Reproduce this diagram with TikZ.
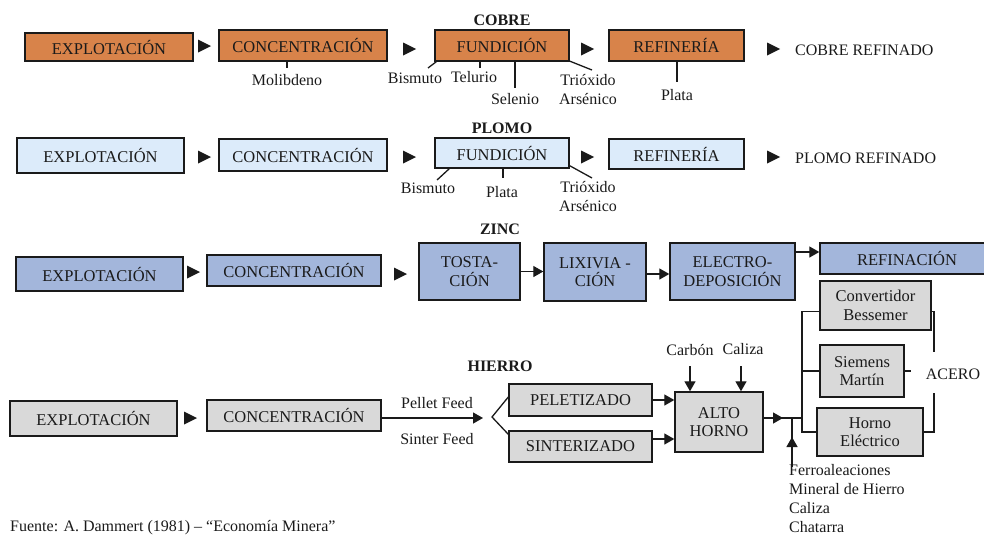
\documentclass[tikz,border=0pt]{standalone}
\usepackage{fontspec}
\setmainfont{Liberation Serif}
\usetikzlibrary{arrows.meta,shadows}
\definecolor{cuor}{HTML}{D8834A}
\definecolor{pbbl}{HTML}{DCEBFA}
\definecolor{znbl}{HTML}{A3B6DB}
\definecolor{fegr}{HTML}{D9D9D9}
\definecolor{ink}{HTML}{1A1A1A}
\tikzset{
  bx/.style={draw=ink, line width=1.4pt, inner sep=0pt, align=center, text=ink,
    font=\fontsize{16.5}{18.5}\selectfont,
    drop shadow={shadow xshift=1.2pt, shadow yshift=-1.2pt, opacity=0.25}},
  cu/.style={bx, fill=cuor},
  pb/.style={bx, fill=pbbl},
  zn/.style={bx, fill=znbl},
  fe/.style={bx, fill=fegr},
  lbl/.style={inner sep=0pt, align=center, text=ink, font=\fontsize{16}{19}\selectfont},
  ttl/.style={inner sep=0pt, text=ink, font=\bfseries\fontsize{16}{19}\selectfont},
  ln/.style={draw=ink, line width=1.3pt},
  arr/.style={draw=ink, line width=1.3pt, -{Triangle[length=10pt,width=11pt]}},
  tri/.pic={\fill[ink] (-6,-6.5) -- (7,0) -- (-6,6.5) -- cycle;}
}
\begin{document}
\begin{tikzpicture}[x=1pt,y=-1pt]
\useasboundingbox (0,0) rectangle (984,536);

% ---------------- COBRE ----------------
\node[ttl] (cut) at (502,20) {COBRE};
\node[cu, minimum width=168pt, minimum height=28pt] (e1) at (109,47) {EXPLOTACIÓN};
\node[cu, minimum width=168pt, minimum height=31pt] (c1) at (303,45.5) {CONCENTRACIÓN};
\node[cu, minimum width=134pt, minimum height=31pt] (f1) at (502,45.5) {FUNDICIÓN};
\node[cu, minimum width=135pt, minimum height=31pt] (r1) at (676.5,45.5) {REFINERÍA};
\node[lbl, anchor=west] (cuout) at (795,50) {COBRE REFINADO};
\pic at (204,46) {tri};
\pic at (409,49) {tri};
\pic at (587,49) {tri};
\pic at (773,49) {tri};

\node[lbl] (mol) at (287,80) {Molibdeno};
\node[lbl] (bi1) at (415,78) {Bismuto};
\node[lbl] (te1) at (474,77) {Telurio};
\node[lbl] (sel1) at (515,99) {Selenio};
\node[lbl] (tri1) at (588,89.5) {Trióxido\\Arsénico};
\node[lbl] (pla1) at (677,95) {Plata};
\coordinate (kmol) at (287,68);
\coordinate (kbi1) at (428,68);
\coordinate (kte1) at (480,68);
\coordinate (kse1) at (515,88);
\coordinate (ktr1) at (592,70);
\coordinate (kpl1) at (677,82);
\draw[ln] (c1.south -| kmol) -- (kmol);
\draw[ln] ([xshift=2pt]f1.south west) -- (kbi1);
\draw[ln] (f1.south -| kte1) -- (kte1);
\draw[ln] (f1.south -| kse1) -- (kse1);
\draw[ln] ([shift={(-1pt,1pt)}]f1.south east) -- (ktr1);
\draw[ln] (r1.south -| kpl1) -- (kpl1);

% ---------------- PLOMO ----------------
\node[ttl] (pbt) at (502,128) {PLOMO};
\node[pb, minimum width=167pt, minimum height=35pt] (e2) at (100.5,155.5) {EXPLOTACIÓN};
\node[pb, minimum width=168pt, minimum height=32pt] (c2) at (303,155) {CONCENTRACIÓN};
\node[pb, minimum width=134pt, minimum height=30pt] (f2) at (502,153) {FUNDICIÓN};
\node[pb, minimum width=135pt, minimum height=30pt] (r2) at (676.5,154) {REFINERÍA};
\node[lbl, anchor=west] (pbout) at (795,158) {PLOMO REFINADO};
\pic at (204,157) {tri};
\pic at (409,157) {tri};
\pic at (587,157) {tri};
\pic at (773,157) {tri};

\node[lbl] (bi2) at (428,188) {Bismuto};
\node[lbl] (pla2) at (502,192) {Plata};
\node[lbl] (tri2) at (588,197) {Trióxido\\Arsénico};
\coordinate (kbi2) at (437,180);
\coordinate (kpl2) at (503,178);
\coordinate (ktr2) at (592,178);
\draw[ln] ([xshift=15pt]f2.south west) -- (kbi2);
\draw[ln] (f2.south -| kpl2) -- (kpl2);
\draw[ln] ([yshift=3pt]f2.south east) -- (ktr2);

% ---------------- ZINC ----------------
\node[ttl] (znt) at (500,229) {ZINC};
\node[zn, minimum width=167pt, minimum height=34pt] (e3) at (99.5,274) {EXPLOTACIÓN};
\node[zn, minimum width=174pt, minimum height=31pt] (c3) at (294,270.5) {CONCENTRACIÓN};
\node[zn, minimum width=101pt, minimum height=57pt] (t3) at (469.5,271.5) {TOSTA-\\CIÓN};
\node[zn, minimum width=102pt, minimum height=58pt] (l3) at (595,272) {LIXIVIA -\\CIÓN};
\node[zn, minimum width=125pt, minimum height=57pt] (d3) at (732.5,271.5) {ELECTRO-\\DEPOSICIÓN};
\node[zn, minimum width=174pt, minimum height=31pt] (rf3) at (907,258.5) {REFINACIÓN};
\pic at (193,272) {tri};
\pic at (400,274) {tri};
\draw[arr] (t3.east) -- (l3.west |- t3.east);
\draw[arr] ([yshift=-2pt]l3.east) -- ([yshift=-2pt]l3.east -| d3.west);
\draw[arr] ([yshift=19.5pt]d3.east) -- ([yshift=19.5pt]d3.east -| rf3.west);

% ---------------- HIERRO ----------------
\node[ttl] (fet) at (500,366) {HIERRO};
\node[fe, minimum width=167pt, minimum height=35pt] (e4) at (93.5,418.5) {EXPLOTACIÓN};
\node[fe, minimum width=174pt, minimum height=31pt] (c4) at (294,415.5) {CONCENTRACIÓN};
\node[fe, minimum width=143pt, minimum height=32pt] (p4) at (580.5,400) {PELETIZADO};
\node[fe, minimum width=143pt, minimum height=31pt] (s4) at (580.5,446.5) {SINTERIZADO};
\node[fe, minimum width=88pt, minimum height=60pt] (a4) at (719,422) {ALTO\\HORNO};
\node[fe, minimum width=111pt, minimum height=49pt] (cb) at (875.5,305.5) {Convertidor\\Bessemer};
\node[fe, minimum width=84pt, minimum height=52pt] (sm) at (862,371) {Siemens\\Martín};
\node[fe, minimum width=106pt, minimum height=48pt] (he) at (870,432) {Horno\\Eléctrico};
\pic at (190,418) {tri};

\node[lbl] (pf) at (437,403) {Pellet Feed};
\node[lbl] (sf) at (437,439) {Sinter Feed};
\coordinate (ftip) at (483,418);
\coordinate (fork) at (492,417);
\draw[arr] ([yshift=-2.5pt]c4.east) -- (ftip);
\draw[ln] ([yshift=3pt]p4.west) -- (fork) -- ([yshift=-4pt]s4.north west);
\draw[arr] (p4.east) -- (p4.east -| a4.west);
\draw[arr] ([yshift=7.5pt]s4.east) -- ([yshift=7.5pt]s4.east -| a4.west);

\node[lbl] (carb) at (690,350) {Carbón};
\node[lbl] (cal) at (743,349) {Caliza};
\coordinate (kcarb) at (690,366);
\coordinate (kcal) at (741,366);
\draw[arr] (kcarb) -- (kcarb |- a4.north);
\draw[arr] (kcal) -- (kcal |- a4.north);

\coordinate (jn) at (802,418);
\draw[ln] ([yshift=4pt]a4.east) -- (jn);
\draw[arr] ([yshift=4pt]a4.east) -- (783,418);
\draw[ln] ([yshift=-6pt]cb.west) -| (jn) |- (he.west);
\draw[ln] (sm.west) -- (sm.west -| jn);

\node[lbl] (acero) at (953,374) {ACERO};
\coordinate (ku) at (934,352);
\coordinate (kd) at (934,393);
\draw[ln] ([yshift=-6pt]cb.east) -| (ku);
\draw[ln] (he.east) -| (kd);
\draw[ln] (sm.east) -- ++(6,0);

\node[lbl, anchor=north west, align=left] (ferro) at (789,464)
  {Ferroaleaciones\\Mineral de Hierro\\Caliza\\Chatarra};
\coordinate (kfe) at (792,467);
\draw[ln] (kfe) -- (kfe |- jn);
\draw[arr] (kfe) -- (792,437);

\node[lbl, anchor=west] (src) at (10,528) {Fuente: A. Dammert (1981) – “Economía Minera”};
\end{tikzpicture}
\end{document}
